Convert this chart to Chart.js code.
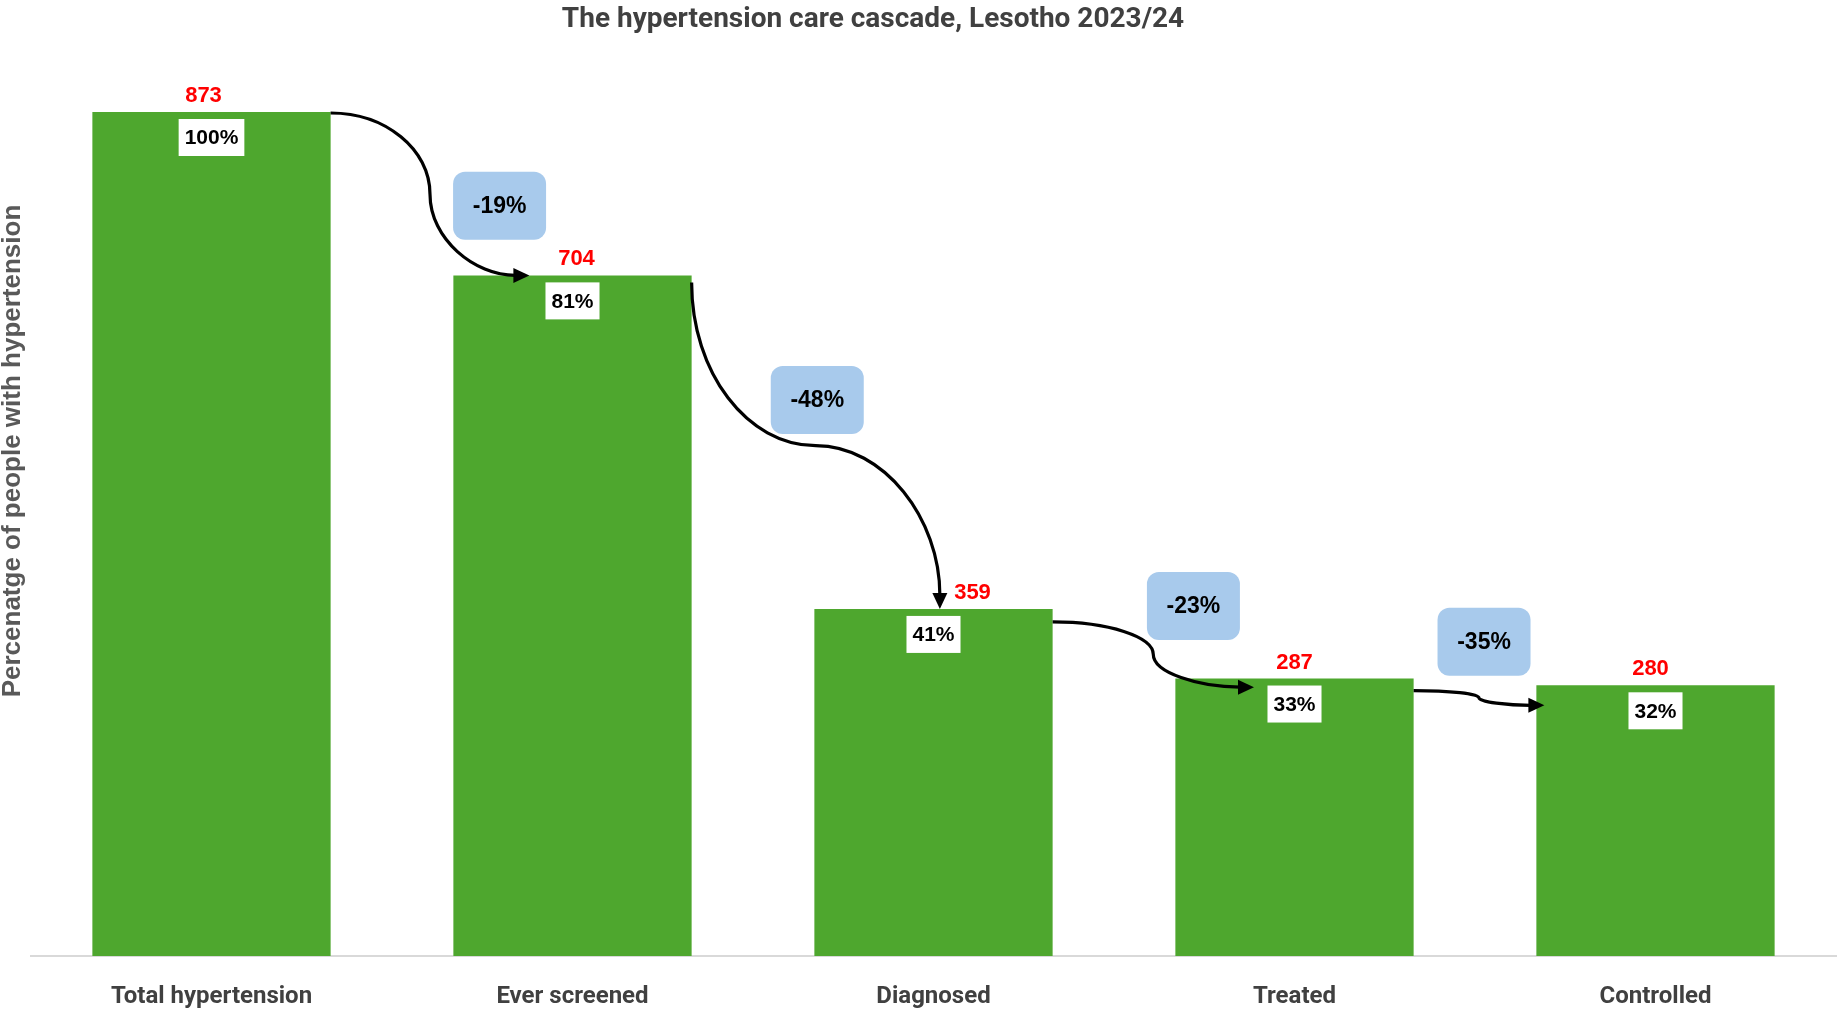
<!DOCTYPE html>
<html lang="en">
<head>
<meta charset="UTF-8">
<title>Hypertension care cascade</title>
<script src="https://cdn.jsdelivr.net/npm/chart.js"></script>
<style>
  html, body { margin: 0; padding: 0; background: #fff; }
  #wrap { width: 1837px; height: 1013px; position: relative; }
</style>
</head>
<body>
<div id="wrap"><canvas id="cascade"></canvas></div>
<script>
const steps = ["Total hypertension", "Ever screened", "Diagnosed", "Treated", "Controlled"];
const counts = [873, 704, 359, 287, 280];
const shares = [100, 81, 41, 33, 32];
const drops = [-19, -48, -23, -35];

// hand placed bits of the original (label nudges, boxes, arrow ends)
const countShift = [-8, 4, 39, 0, -5];
const dropBoxAt = [[0.798, 776], [1.678, 575], [2.72, 362], [3.525, 325]];
const arrowSpec = [
    { mode: "h", sy: 1,  ex: 76,    ey: 0 },
    { mode: "v", sy: 7,  ex: 125.5, ey: 0 },
    { mode: "h", sy: 13, ex: 78.6,  ey: 8.6 },
    { mode: "h", sy: 12, ex: 8,     ey: 20 }
];

const ARIAL = "'Liberation Sans', Arial, sans-serif";
const HEAD = "Roboto, 'Liberation Sans', sans-serif";

function roundBox(ctx, x, y, w, h, r) {
    ctx.beginPath();
    ctx.moveTo(x + r, y);
    ctx.arcTo(x + w, y, x + w, y + h, r);
    ctx.arcTo(x + w, y + h, x, y + h, r);
    ctx.arcTo(x, y + h, x, y, r);
    ctx.arcTo(x, y, x + w, y, r);
    ctx.closePath();
}

// S-curve from s to e, through the midpoint, as two quarter ellipses
function drawArrow(ctx, s, e, mode) {
    const k = 0.552;
    const m = { x: (s.x + e.x) / 2, y: (s.y + e.y) / 2 };
    let c1, c2, c3, c4;
    if (mode === "h") {
        c1 = [s.x + k * (m.x - s.x), s.y];
        c2 = [m.x, m.y - k * (m.y - s.y)];
        c3 = [m.x, m.y + k * (e.y - m.y)];
        c4 = [e.x - k * (e.x - m.x), e.y];
    } else {
        c1 = [s.x, s.y + k * (m.y - s.y)];
        c2 = [m.x - k * (m.x - s.x), m.y];
        c3 = [m.x + k * (e.x - m.x), m.y];
        c4 = [e.x, e.y - k * (e.y - m.y)];
    }
    const ang = Math.atan2(e.y - c4[1], e.x - c4[0]);
    const headLen = 16, headW = 7.5;
    const bx = e.x - Math.cos(ang) * (headLen - 2);
    const by = e.y - Math.sin(ang) * (headLen - 2);

    ctx.save();
    ctx.strokeStyle = "#000";
    ctx.lineWidth = 3.2;
    ctx.beginPath();
    ctx.moveTo(s.x, s.y);
    ctx.bezierCurveTo(c1[0], c1[1], c2[0], c2[1], m.x, m.y);
    ctx.bezierCurveTo(c3[0], c3[1], c4[0], c4[1], bx, by);
    ctx.stroke();

    ctx.fillStyle = "#000";
    ctx.beginPath();
    ctx.moveTo(e.x, e.y);
    ctx.lineTo(e.x - Math.cos(ang) * headLen - Math.sin(ang) * headW,
               e.y - Math.sin(ang) * headLen + Math.cos(ang) * headW);
    ctx.lineTo(e.x - Math.cos(ang) * headLen + Math.sin(ang) * headW,
               e.y - Math.sin(ang) * headLen - Math.cos(ang) * headW);
    ctx.closePath();
    ctx.fill();
    ctx.restore();
}

const cascadeExtras = {
    id: "cascadeExtras",
    afterDraw(chart) {
        const ctx = chart.ctx;
        const bars = chart.getDatasetMeta(0).data;
        const xs = chart.scales.x, ys = chart.scales.y;

        // titles
        ctx.save();
        ctx.fillStyle = "#404040";
        ctx.font = "bold 28px " + HEAD;
        ctx.textAlign = "center";
        ctx.textBaseline = "alphabetic";
        ctx.fillText("The hypertension care cascade, Lesotho 2023/24", 873, 27);

        ctx.translate(20, 451);
        ctx.rotate(-Math.PI / 2);
        ctx.fillStyle = "#595959";
        ctx.font = "bold 26px " + ARIAL;
        ctx.fillText("Percenatge of people with hypertension", 0, 0);
        ctx.restore();

        // arrows between bars
        arrowSpec.forEach((a, i) => {
            const b0 = bars[i], b1 = bars[i + 1];
            const s = { x: b0.x + b0.width / 2, y: b0.y + a.sy };
            const e = { x: b1.x - b1.width / 2 + a.ex, y: b1.y + a.ey };
            drawArrow(ctx, s, e, a.mode);
        });

        ctx.save();
        ctx.textAlign = "center";
        ctx.textBaseline = "middle";

        // drop boxes
        drops.forEach((d, i) => {
            const cx = xs.getPixelForValue(dropBoxAt[i][0]);
            const cy = ys.getPixelForValue(dropBoxAt[i][1]);
            const w = 93, h = 68;
            ctx.fillStyle = "#a8caec";
            roundBox(ctx, cx - w / 2, cy - h / 2, w, h, 12);
            ctx.fill();
            ctx.fillStyle = "#000";
            ctx.font = "bold 23px " + ARIAL;
            ctx.fillText(d + "%", cx, cy + 1);
        });

        bars.forEach((b, i) => {
            // white share box under the bar top
            ctx.font = "bold 21px " + ARIAL;
            const txt = shares[i] + "%";
            const w = ctx.measureText(txt).width + 12;
            const h = 37;
            const top = b.y + 7;
            ctx.fillStyle = "#fff";
            ctx.fillRect(b.x - w / 2, top, w, h);
            ctx.fillStyle = "#000";
            ctx.fillText(txt, b.x, top + h / 2 + 1);

            // red count above the bar
            ctx.font = "bold 22px " + ARIAL;
            ctx.fillStyle = "#ff0000";
            ctx.textBaseline = "alphabetic";
            ctx.fillText(String(counts[i]), b.x + countShift[i], b.y - 10);
            ctx.textBaseline = "middle";
        });
        ctx.restore();
    }
};

new Chart(document.getElementById("cascade"), {
    type: "bar",
    data: {
        labels: steps,
        datasets: [{
            data: counts,
            backgroundColor: "#4ea72e",
            borderWidth: 0,
            categoryPercentage: 1,
            barPercentage: 0.66
        }]
    },
    options: {
        responsive: true,
        maintainAspectRatio: false,
        devicePixelRatio: 1,
        animation: false,
        layout: { padding: { top: 112, left: 31, right: 1, bottom: 0 } },
        plugins: {
            legend: { display: false },
            tooltip: { enabled: false },
            title: { display: false }
        },
        scales: {
            x: {
                afterFit(scale) { scale.height = 57; },
                grid: { display: false, drawTicks: false },
                border: { display: true, color: "#d9d9d9", width: 2 },
                ticks: {
                    padding: 26.5,
                    color: "#404040",
                    font: { family: HEAD, size: 24, weight: "bold", lineHeight: 1.2 }
                }
            },
            y: {
                display: false,
                min: 0,
                max: 873
            }
        }
    },
    plugins: [cascadeExtras]
});
</script>
</body>
</html>
